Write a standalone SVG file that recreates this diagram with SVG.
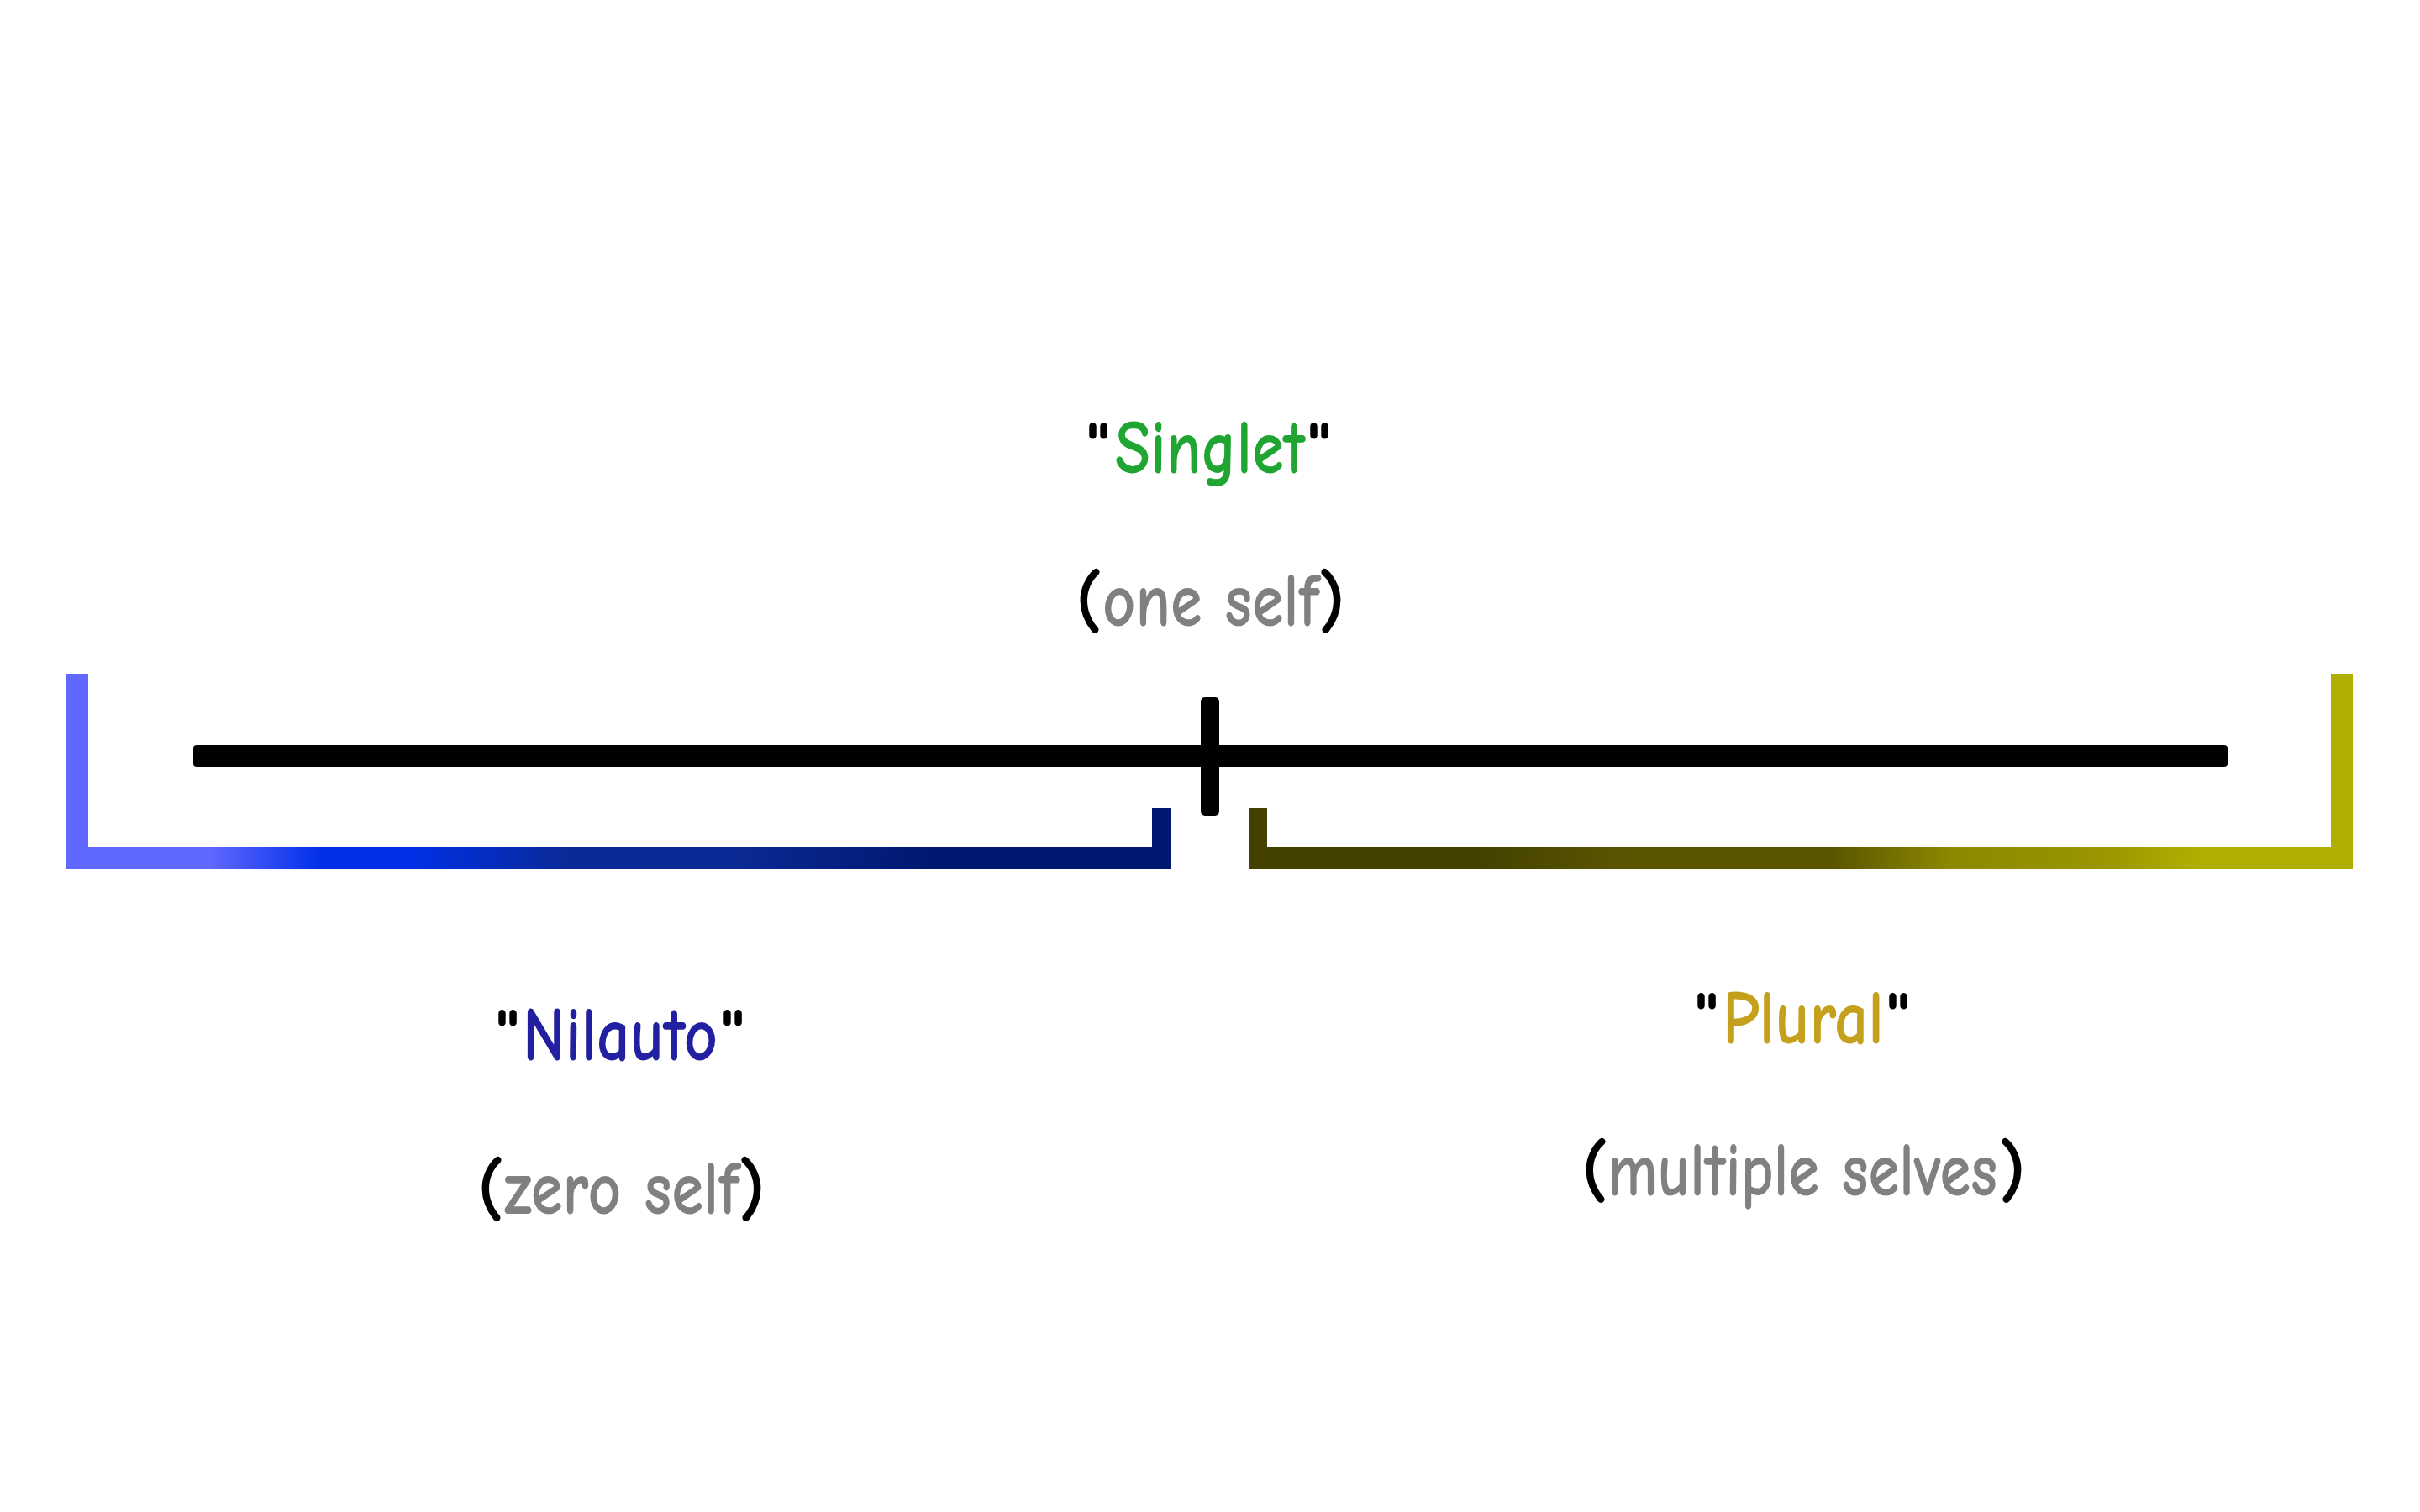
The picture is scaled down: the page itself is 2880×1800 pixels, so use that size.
<svg xmlns="http://www.w3.org/2000/svg" width="2880" height="1800" viewBox="0 0 2880 1800">
  <style>
    .lbl { font-family: "Comic Sans MS", "Comic Neue", "Open Sans", "Liberation Sans", sans-serif; font-size: 92px; font-weight: 600; text-anchor: middle; }
    .pun { font-size: 88px; }
    .blk { fill: #000000; }
    .gry { fill: #808080; }
    .grn { fill: #20A532; }
    .nav { fill: #221FA0; }
    .gld { fill: #C4A01C; }
  </style>
  <defs>
    <linearGradient id="gradBlue" gradientUnits="userSpaceOnUse" x1="79" y1="0" x2="1393" y2="0">
      <stop offset="0" stop-color="#6068FF"/>
      <stop offset="0.13" stop-color="#6068FF"/>
      <stop offset="0.23" stop-color="#0030E8"/>
      <stop offset="0.31" stop-color="#0030E8"/>
      <stop offset="0.45" stop-color="#0A2A98"/>
      <stop offset="0.6" stop-color="#0A2A95"/>
      <stop offset="0.78" stop-color="#001870"/>
      <stop offset="1" stop-color="#001870"/>
    </linearGradient>
    <linearGradient id="gradOlive" gradientUnits="userSpaceOnUse" x1="1486" y1="0" x2="2800" y2="0">
      <stop offset="0" stop-color="#434000"/>
      <stop offset="0.199" stop-color="#434000"/>
      <stop offset="0.342" stop-color="#5A5600"/>
      <stop offset="0.53" stop-color="#5A5600"/>
      <stop offset="0.636" stop-color="#8C8800"/>
      <stop offset="0.774" stop-color="#999600"/>
      <stop offset="0.858" stop-color="#B0AE00"/>
      <stop offset="1" stop-color="#B0AE00"/>
    </linearGradient>
  </defs>
  <rect x="0" y="0" width="2880" height="1800" fill="#FFFFFF"/>

  <g id="connectors">
    <g id="axis">
      <rect x="230" y="887" width="2421" height="26" rx="4" fill="#000000"/>
      <rect x="1429" y="830" width="22" height="141" rx="5" fill="#000000"/>
    </g>
    <path id="bracket-nilauto" d="M79,802 H105 V1008 H1371 V962 H1393 V1034 H79 Z" fill="url(#gradBlue)"/>
    <path id="bracket-plural" d="M1486,962 H1508 V1008 H2774 V802 H2800 V1034 H1486 Z" fill="url(#gradOlive)"/>
  </g>

  <g id="node-singlet">
    <text class="lbl pun blk" x="1307" y="563">"</text>
    <text class="lbl grn" x="1440" y="563" textLength="226" lengthAdjust="spacingAndGlyphs">Singlet</text>
    <text class="lbl pun blk" x="1570" y="563">"</text>
    <text class="lbl pun blk" x="1296" y="745">(</text>
    <text class="lbl gry" x="1441" y="745" textLength="258" lengthAdjust="spacingAndGlyphs">one self</text>
    <text class="lbl pun blk" x="1585" y="745">)</text>
  </g>

  <g id="node-nilauto">
    <text class="lbl pun blk" x="604" y="1262">"</text>
    <text class="lbl nav" x="738" y="1262" textLength="232" lengthAdjust="spacingAndGlyphs">Nilauto</text>
    <text class="lbl pun blk" x="872" y="1262">"</text>
    <text class="lbl pun blk" x="584" y="1445">(</text>
    <text class="lbl gry" x="740" y="1445" textLength="280" lengthAdjust="spacingAndGlyphs">zero self</text>
    <text class="lbl pun blk" x="895" y="1445">)</text>
  </g>

  <g id="node-plural">
    <text class="lbl pun blk" x="2031" y="1242">"</text>
    <text class="lbl gld" x="2146" y="1242" textLength="192" lengthAdjust="spacingAndGlyphs">Plural</text>
    <text class="lbl pun blk" x="2259" y="1242">"</text>
    <text class="lbl pun blk" x="1898" y="1423">(</text>
    <text class="lbl gry" x="2145" y="1423" textLength="464" lengthAdjust="spacingAndGlyphs">multiple selves</text>
    <text class="lbl pun blk" x="2395" y="1423">)</text>
  </g>
</svg>
